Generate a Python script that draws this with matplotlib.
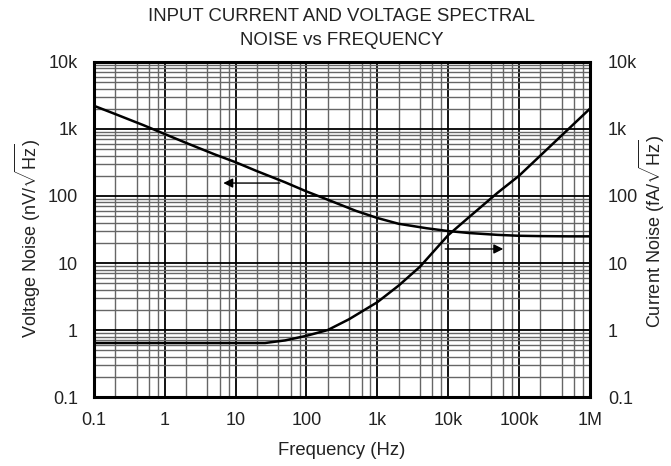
import matplotlib
matplotlib.use("Agg")
import matplotlib.pyplot as plt
from matplotlib.ticker import LogLocator, NullFormatter

plt.rcParams['font.family'] = ['Liberation Sans', 'DejaVu Sans']
plt.rcParams['mathtext.fontset'] = 'custom'
plt.rcParams['mathtext.rm'] = 'Liberation Sans'

# data
freq_v = [0.1, 0.2, 0.5, 1, 2, 5, 10, 20, 50, 100, 200, 500, 1e3, 2e3, 5e3,
          1e4, 2e4, 5e4, 1e5, 2e5, 5e5, 1e6]
volt_noise = [2220, 1670, 1140, 840, 620, 420, 319, 235, 160, 117, 88, 60,
              47, 38.5, 33, 30, 28, 26.3, 25.5, 25.2, 25, 25]

freq_i = [0.1, 1, 10, 26, 50, 100, 200, 400, 1e3, 2e3, 4e3, 1e4, 2e4, 5e4,
          1e5, 2e5, 5e5, 1e6]
curr_noise = [0.64, 0.64, 0.64, 0.64, 0.7, 0.82, 1.0, 1.45, 2.6, 4.6, 8.8,
              26, 49, 112, 200, 400, 1000, 2000]

x_ticks = [0.1, 1, 10, 100, 1e3, 1e4, 1e5, 1e6]
x_labels = ['0.1', '1', '10', '100', '1k', '10k', '100k', '1M']
y_ticks = [0.1, 1, 10, 100, 1e3, 1e4]
y_labels = ['0.1', '1', '10', '100', '1k', '10k']

txt = '#222222'

fig = plt.figure(figsize=(6.71, 4.66), dpi=100)
ax = fig.add_axes([0.140, 0.148, 0.739, 0.719])

ax.set_xscale('log')
ax.set_yscale('log')
ax.set_xlim(0.1, 1e6)
ax.set_ylim(0.1, 1e4)

ax.plot(freq_v, volt_noise, color='black', lw=1.8, zorder=5)
ax.plot(freq_i, curr_noise, color='black', lw=1.8, zorder=5)

# arrows showing which axis each curve belongs to
ax.annotate('', xy=(6.7, 156), xytext=(42, 156),
            arrowprops=dict(arrowstyle='-|>', color='black', lw=1.0,
                            mutation_scale=14, shrinkA=0, shrinkB=0), zorder=6)
ax.annotate('', xy=(6e4, 16.2), xytext=(9.1e3, 16.2),
            arrowprops=dict(arrowstyle='-|>', color='black', lw=1.0,
                            mutation_scale=14, shrinkA=0, shrinkB=0), zorder=6)

ax.set_xticks(x_ticks)
ax.set_xticklabels(x_labels)
ax.set_yticks(y_ticks)
ax.set_yticklabels(y_labels)
ax.xaxis.set_minor_locator(LogLocator(base=10, subs=[2, 4, 6, 8], numticks=20))
ax.yaxis.set_minor_locator(LogLocator(base=10, subs=range(2, 10), numticks=20))
ax.xaxis.set_minor_formatter(NullFormatter())
ax.yaxis.set_minor_formatter(NullFormatter())
ax.tick_params(which='both', length=0, labelsize=13, colors=txt)
ax.tick_params(axis='x', pad=11)
ax.tick_params(axis='y', pad=11.5)

ax.grid(which='major', color='black', lw=1.3)
ax.grid(which='minor', color='#666666', lw=1.0)
ax.set_axisbelow(True)
for sp in ax.spines.values():
    sp.set_linewidth(2.2)
    sp.set_color('black')

ax.set_xlabel('Frequency (Hz)', fontsize=13.3, color=txt)
ax.xaxis.set_label_coords(0.5, -0.134)
ax.set_ylabel(r'Voltage Noise (nV/$\sqrt{\mathrm{Hz}}$)', fontsize=13,
              color=txt, va='center')
ax.yaxis.set_label_coords(-0.133, 0.475)
ax.set_title('INPUT CURRENT AND VOLTAGE SPECTRAL\nNOISE vs FREQUENCY',
             fontsize=13.4, color=txt, pad=12, linespacing=1.55)

ax2 = ax.twinx()
ax2.set_yscale('log')
ax2.set_ylim(0.1, 1e4)
ax2.set_yticks(y_ticks)
ax2.set_yticklabels(y_labels)
ax2.yaxis.set_minor_formatter(NullFormatter())
ax2.tick_params(which='both', length=0, labelsize=13, colors=txt, pad=13)
ax2.set_ylabel(r'Current Noise (fA/$\sqrt{\mathrm{Hz}}$)', fontsize=13,
               color=txt, va='center')
ax2.yaxis.set_label_coords(1.126, 0.495)
for sp in ax2.spines.values():
    sp.set_visible(False)

fig.savefig('out.png', dpi=100)
